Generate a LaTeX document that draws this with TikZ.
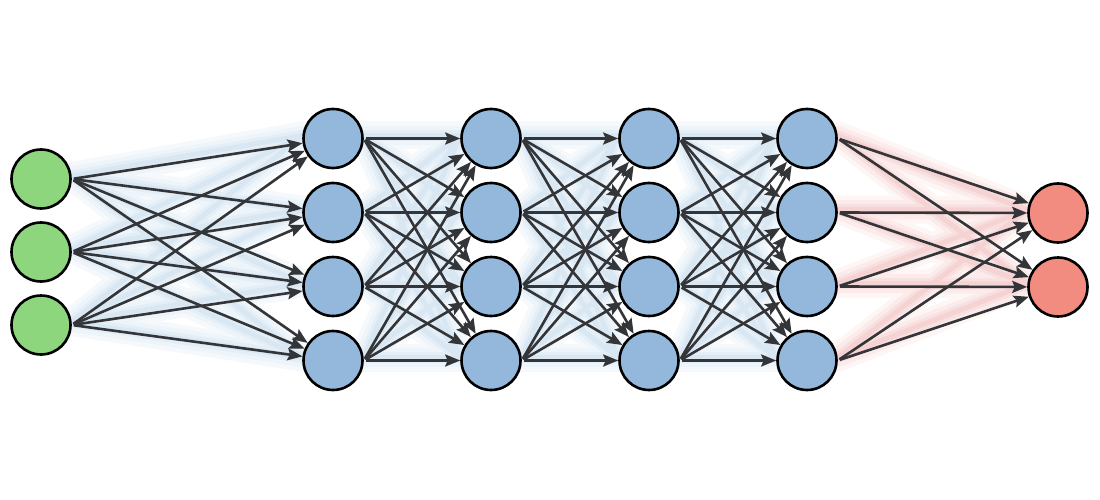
\documentclass[tikz,border=0pt]{standalone}
\usetikzlibrary{arrows.meta}
\pgfdeclarelayer{background}
\pgfsetlayers{background,main}
\definecolor{ingreen}{HTML}{8ED67D}
\definecolor{hidblue}{HTML}{94B8DC}
\definecolor{outred}{HTML}{F28B80}
\definecolor{edgecol}{HTML}{333538}
\definecolor{gb1}{HTML}{F5F9FC}
\definecolor{gb2}{HTML}{EDF4FA}
\definecolor{gb3}{HTML}{E4EEF7}
\definecolor{gb4}{HTML}{D9E7F3}
\definecolor{gr1}{HTML}{FEF5F5}
\definecolor{gr2}{HTML}{FCEBEB}
\definecolor{gr3}{HTML}{F9E0E0}
\definecolor{gr4}{HTML}{F5D3D3}
\tikzset{
  neuron/.style={circle, draw=black, line width=2.6pt, minimum size=59pt, inner sep=0pt},
  innode/.style={neuron, fill=ingreen},
  hidnode/.style={neuron, fill=hidblue},
  outnode/.style={neuron, fill=outred},
  conn/.style={draw=edgecol, line width=2.6pt, shorten <=2pt, -{Stealth[length=15pt,width=12pt,inset=2.5pt]}},
  glowA/.style={line width=28pt, line cap=round},
  glowB/.style={line width=19pt, line cap=round},
  glowC/.style={line width=11pt, line cap=round},
  glowD/.style={line width=5pt, line cap=round}
}
\begin{document}
\begin{tikzpicture}[x=1pt,y=-1pt]
\useasboundingbox (0,0) rectangle (1100,500);
% nodes
\node[innode] (i1) at (41,179) {};
\node[innode] (i2) at (41,252) {};
\node[innode] (i3) at (41,325) {};
\foreach \l/\x in {1/333,2/491,3/649,4/807}{
  \foreach \k/\y in {1/138.5,2/212.5,3/286.5,4/360.5}{
    \node[hidnode] (h\l\k) at (\x,\y) {};
  }
}
\node[outnode] (o1) at (1058,213) {};
\node[outnode] (o2) at (1058,287) {};
% glow layers
\begin{pgfonlayer}{background}
\foreach \gs/\gc in {glowA/gb1,glowB/gb2,glowC/gb3,glowD/gb4}{
  \foreach \a in {1,2,3}{\foreach \b in {1,2,3,4}{
    \draw[\gs,draw=\gc] ([yshift=3pt]i\a.east) -- ([yshift=3pt]h1\b.west);
  }}
  \foreach \l/\m in {1/2,2/3,3/4}{
    \foreach \a in {1,2,3,4}{\foreach \b in {1,2,3,4}{
      \draw[\gs,draw=\gc] ([yshift=3pt]h\l\a.east) -- ([yshift=3pt]h\m\b.west);
    }}
  }
}
\foreach \gs/\gc in {glowA/gr1,glowB/gr2,glowC/gr3,glowD/gr4}{
  \foreach \a in {1,2,3,4}{\foreach \b in {1,2}{
    \draw[\gs,draw=\gc] ([yshift=3pt]h4\a.east) -- ([yshift=3pt]o\b.west);
  }}
}
\end{pgfonlayer}
% connections
\foreach \a in {1,2,3}{\foreach \b in {1,2,3,4}{
  \draw[conn] (i\a.east) -- (h1\b);
}}
\foreach \l/\m in {1/2,2/3,3/4}{
  \foreach \a in {1,2,3,4}{\foreach \b in {1,2,3,4}{
    \draw[conn] (h\l\a.east) -- (h\m\b);
  }}
}
\foreach \a in {1,2,3,4}{\foreach \b in {1,2}{
  \draw[conn] (h4\a.east) -- (o\b);
}}
\end{tikzpicture}
\end{document}
